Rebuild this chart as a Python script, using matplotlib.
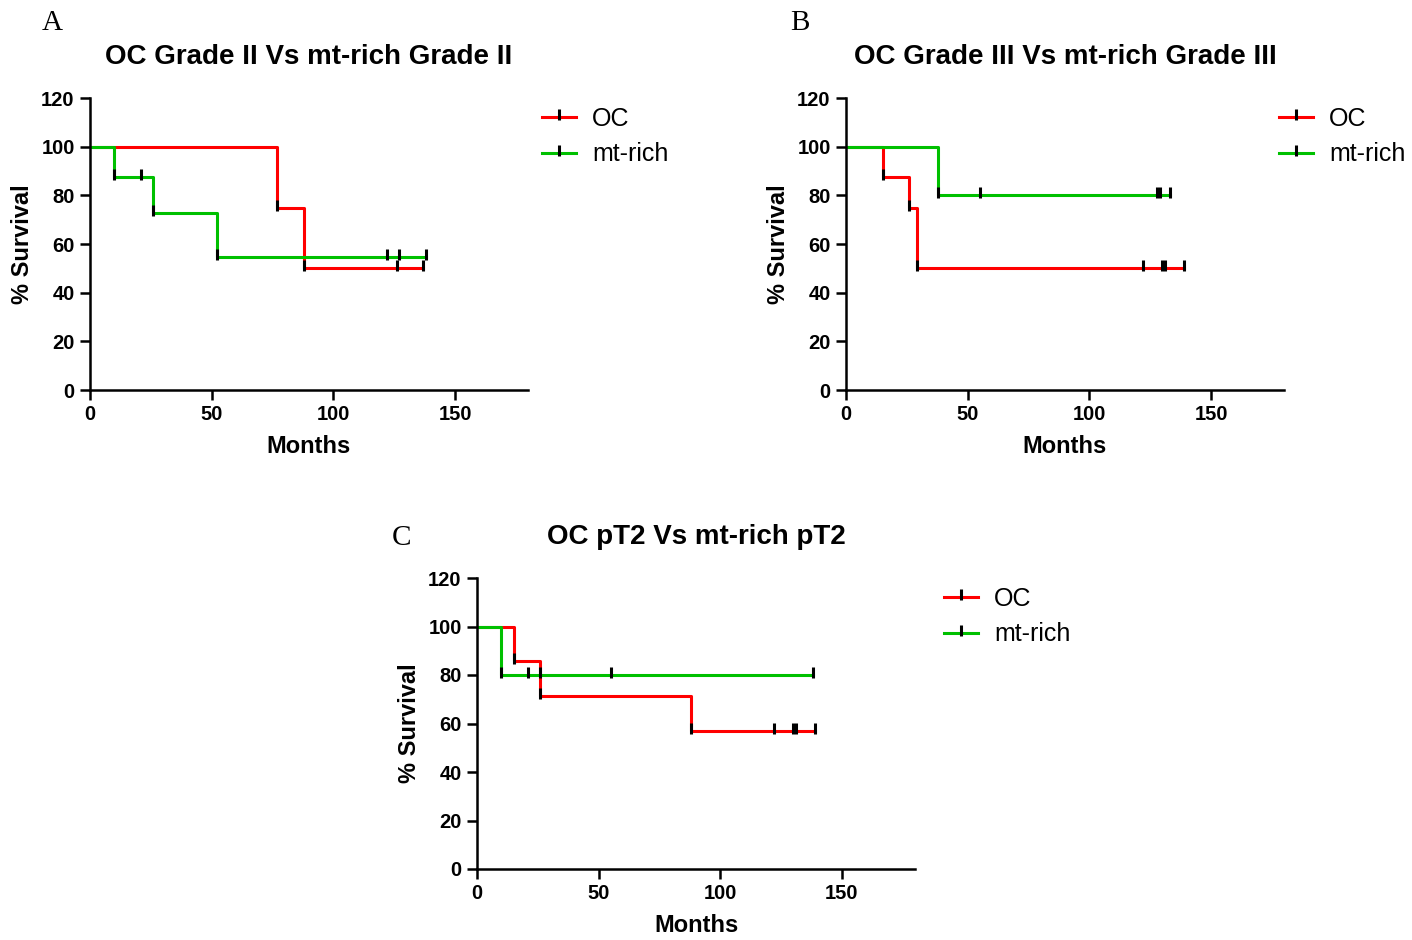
import matplotlib.pyplot as plt
from matplotlib.path import Path
from matplotlib.lines import Line2D

plt.rcParams['font.family'] = ['Liberation Sans', 'DejaVu Sans']

# Kaplan-Meier steps: event times (months) and survival (%) after each event, plus censored times
a_oc_t = [77, 88]
a_oc_s = [75, 50]
a_oc_cens = [126, 137]
a_mt_t = [10, 26, 52]
a_mt_s = [87.5, 72.9, 54.7]
a_mt_cens = [21, 122, 127, 138]

b_oc_t = [15, 26, 29]
b_oc_s = [87.5, 75, 50]
b_oc_cens = [122, 130, 131, 139]
b_mt_t = [38]
b_mt_s = [80]
b_mt_cens = [55, 128, 129, 133]

c_oc_t = [15, 26, 88]
c_oc_s = [85.7, 71.4, 57.1]
c_oc_cens = [122, 130, 131, 139]
c_mt_t = [10]
c_mt_s = [80]
c_mt_cens = [21, 26, 55, 138]

titles = ['OC Grade II Vs mt-rich Grade II', 'OC Grade III Vs mt-rich Grade III', 'OC pT2 Vs mt-rich pT2']
letters = ['A', 'B', 'C']
groups = ['OC', 'mt-rich']
colors = ['#ff0000', '#00c000']

# small vertical tick used for censor / event symbols
tick = Path([(0, -0.35), (0, 1)], [Path.MOVETO, Path.LINETO])


def survival_at(t, times, surv):
    s = 100
    for ti, si in zip(times, surv):
        if t >= ti:
            s = si
    return s


def km_curve(ax, times, surv, cens, color):
    xs = [0] + times + [max(cens)]
    ys = [100] + surv + [surv[-1]]
    ax.step(xs, ys, where='post', color=color, lw=2.2, zorder=2)
    mx = times + cens
    my = surv + [survival_at(c, times, surv) for c in cens]
    ax.plot(mx, my, ls='none', marker=tick, ms=11, mec='black', mew=2.2, zorder=3)


fig = plt.figure(figsize=(14.12, 9.4), dpi=100)
W, H = 1412, 940
boxes = [
    [90 / W, 1 - 390 / H, 438 / W, 292 / H],
    [846 / W, 1 - 390 / H, 438 / W, 292 / H],
    [477 / W, 1 - 869 / H, 438 / W, 291 / H],
]
data = [
    (a_oc_t, a_oc_s, a_oc_cens, a_mt_t, a_mt_s, a_mt_cens),
    (b_oc_t, b_oc_s, b_oc_cens, b_mt_t, b_mt_s, b_mt_cens),
    (c_oc_t, c_oc_s, c_oc_cens, c_mt_t, c_mt_s, c_mt_cens),
]
letter_pos = [(42, 30), (790, 30), (392, 545)]
# upper-left corner of each legend, in pixels
legend_pos = [(542, 107), (1279, 107), (944, 587)]

for box, d, title, letter, lp, gp in zip(boxes, data, titles, letters, letter_pos, legend_pos):
    ax = fig.add_axes(box)
    km_curve(ax, d[0], d[1], d[2], colors[0])
    km_curve(ax, d[3], d[4], d[5], colors[1])
    ax.set_xlim(0, 180)
    ax.set_ylim(0, 120)
    ax.set_xticks([0, 50, 100, 150])
    ax.set_yticks([0, 20, 40, 60, 80, 100, 120])
    for side in ['top', 'right']:
        ax.spines[side].set_visible(False)
    for side in ['left', 'bottom']:
        ax.spines[side].set_linewidth(1.8)
    ax.tick_params(width=1.8, length=7, pad=4, labelsize=14.5)
    for lab in ax.get_xticklabels() + ax.get_yticklabels():
        lab.set_fontweight('bold')
    ax.set_xlabel('Months', fontsize=17, fontweight='bold', labelpad=8)
    ax.set_ylabel('% Survival', fontsize=17, fontweight='bold', labelpad=5)
    ax.set_title(title, fontsize=20, fontweight='bold', pad=24.5)

    handles = [Line2D([], [], color=c, lw=2.2, marker=tick, ms=11, mec='black', mew=2.2)
               for c in colors]
    fig.legend(handles, groups, loc='upper left', bbox_to_anchor=(gp[0] / W, 1 - gp[1] / H),
               frameon=False, fontsize=18, handlelength=1.35, handletextpad=0.65,
               labelspacing=0.45, borderpad=0, borderaxespad=0)

    fig.text(lp[0] / W, 1 - lp[1] / H, letter, fontsize=21,
             family=['Liberation Serif', 'DejaVu Serif'], va='baseline')

plt.savefig('out.png', dpi=100)
